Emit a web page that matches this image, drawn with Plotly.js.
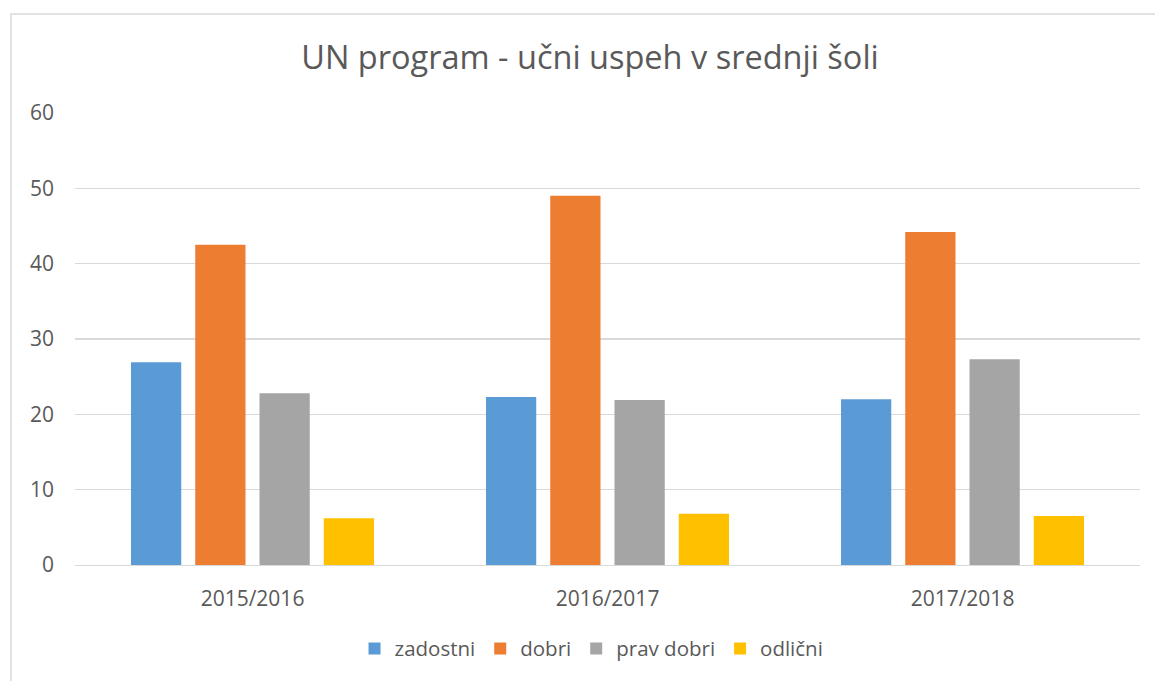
<!DOCTYPE html>
<html>
<head>
<meta charset="utf-8">
<script src="https://cdn.plot.ly/plotly-3.0.1.min.js"></script>
<style>
html, body { margin: 0; padding: 0; background: #fff; }
#chart { width: 1155px; height: 681px; }
</style>
</head>
<body>
<div id="chart"></div>
<script>
const categories = ["2015/2016", "2016/2017", "2017/2018"];
const seriesNames = ["zadostni", "dobri", "prav dobri", "odlični"];
const zadostni = [26.9, 22.3, 22.0];
const dobri = [42.5, 49.0, 44.2];
const pravDobri = [22.8, 21.9, 27.3];
const odlicni = [6.2, 6.8, 6.5];
const yTicks = [0, 10, 20, 30, 40, 50, 60];
const colors = ["#5b9bd5", "#ed7d31", "#a5a5a5", "#ffc000"];

const values = [zadostni, dobri, pravDobri, odlicni];
const traces = values.map((v, i) => ({
  type: "bar",
  name: seriesNames[i],
  x: categories,
  y: v,
  marker: { color: colors[i], line: { width: 0 } },
  hoverinfo: "x+y+name"
}));

const font = "'Open Sans', 'Noto Sans', sans-serif";
const layout = {
  width: 1155,
  height: 681,
  margin: { l: 75, r: 15, t: 113, b: 114 },
  paper_bgcolor: "#ffffff",
  plot_bgcolor: "#ffffff",
  font: { family: font, color: "#595959", size: 21 },
  title: {
    text: "UN program - učni uspeh v srednji šoli",
    font: { family: font, size: 32.5, color: "#595959" },
    x: 0.4836, xanchor: "center", xref: "paper",
    y: 1 - 58 / 681, yanchor: "middle", yref: "container"
  },
  barmode: "group",
  bargap: 0.276,
  bargroupgap: 0.218,
  xaxis: {
    type: "category",
    showgrid: false,
    showline: true,
    linecolor: "#d9d9d9",
    linewidth: 1.3,
    ticks: "",
    tickfont: { size: 21, color: "#595959" },
    ticklabelstandoff: 14,
    zeroline: false
  },
  yaxis: {
    range: [0, 60],
    tickvals: yTicks,
    ticktext: yTicks.map(String),
    showgrid: true,
    gridcolor: "#d9d9d9",
    gridwidth: 1.3,
    zeroline: false,
    showline: false,
    ticks: "",
    tickfont: { size: 21, color: "#595959" },
    ticklabelstandoff: 20
  },
  legend: {
    orientation: "h",
    x: 0.485, xanchor: "center",
    y: -0.185, yanchor: "middle",
    font: { size: 20.5, color: "#595959" },
    itemwidth: 30,
    traceorder: "normal"
  },
  showlegend: true,
  shapes: [{
    type: "rect",
    xref: "paper", yref: "paper",
    x0: (11 - 75) / 1065, x1: 1.2,
    y0: -0.5, y1: (567 - 13.5) / 454,
    line: { color: "#d9d9d9", width: 1.5 },
    fillcolor: "rgba(0,0,0,0)",
    layer: "below"
  }]
};

Plotly.newPlot("chart", traces, layout, { displayModeBar: false, staticPlot: true });
</script>
</body>
</html>
